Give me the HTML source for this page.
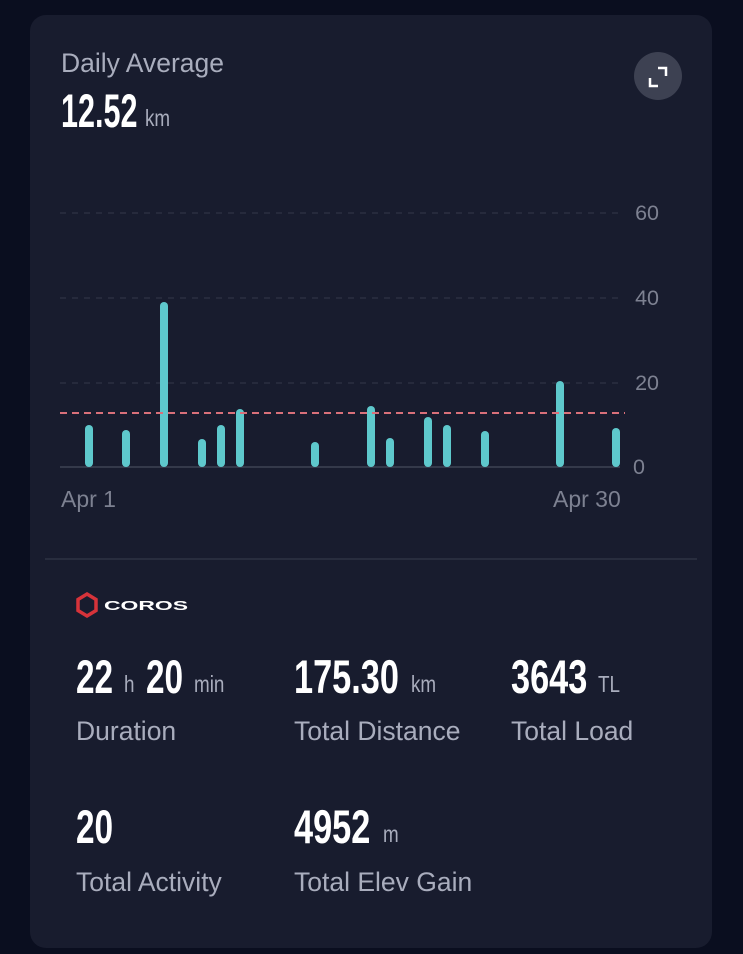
<!DOCTYPE html>
<html><head><meta charset="utf-8"><style>
body{margin:0;width:743px;height:954px;background:#0a0e1f;font-family:"Liberation Sans",sans-serif;overflow:hidden;position:relative}
.card{position:absolute;left:30px;top:15px;width:682px;height:933px;background:#181c2e;border-radius:16px}
</style></head><body>
<div class="card"></div>
<div style="position:absolute;left:634px;top:52px;width:48px;height:48px;border-radius:50%;background:#3d4152"></div>
<svg style="position:absolute;left:0;top:0" width="743" height="954" font-family="Liberation Sans">
<g fill="none" stroke="#fff" stroke-width="2.5"><path d="M650 78v8h8M658 68h8v8"/></g>
<text x="61" y="72" fill="#a9adbd" font-size="26.5">Daily Average</text>
<g fill="#fff" font-weight="bold" font-size="47">
<text transform="translate(61,127) scale(0.65,1)">12.52</text>
<text transform="translate(76,693) scale(0.71,1)">22</text>
<text transform="translate(146,693) scale(0.71,1)">20</text>
<text transform="translate(294,693) scale(0.73,1)">175.30</text>
<text transform="translate(511,693) scale(0.73,1)">3643</text>
<text transform="translate(76,843) scale(0.71,1)">20</text>
<text transform="translate(294,843) scale(0.73,1)">4952</text>
</g>
<g fill="#a9adbd" font-size="23">
<text transform="translate(145,126) scale(0.82,1)">km</text>
<text transform="translate(124,692) scale(0.82,1)">h</text>
<text transform="translate(194,692) scale(0.82,1)">min</text>
<text transform="translate(411,692) scale(0.82,1)">km</text>
<text transform="translate(598,692) scale(0.82,1)">TL</text>
<text transform="translate(383,842) scale(0.82,1)">m</text>
</g>
<g fill="#a9adbd" font-size="26.5">
<text x="76" y="740">Duration</text><text x="294" y="740">Total Distance</text><text x="511" y="740">Total Load</text>
<text x="76" y="891">Total Activity</text><text x="294" y="891">Total Elev Gain</text>
</g>
<g stroke="#333849" stroke-width="1" stroke-dasharray="6,6"><line x1="60" y1="213" x2="620" y2="213"/><line x1="60" y1="298" x2="620" y2="298"/><line x1="60" y1="383" x2="620" y2="383"/></g>
<line x1="60" y1="467" x2="620" y2="467" stroke="#3e4353" stroke-width="1.5"/>
<g fill="#5ec8cc">
<rect x="85" y="425" width="8" height="42" rx="4"/><rect x="122" y="430" width="8" height="37" rx="4"/><rect x="160" y="302" width="8" height="165" rx="4"/><rect x="198" y="439" width="8" height="28" rx="4"/><rect x="217" y="425" width="8" height="42" rx="4"/><rect x="236" y="409" width="8" height="58" rx="4"/><rect x="311" y="442" width="8" height="25" rx="4"/><rect x="367" y="406" width="8" height="61" rx="4"/><rect x="386" y="438" width="8" height="29" rx="4"/><rect x="424" y="417" width="8" height="50" rx="4"/><rect x="443" y="425" width="8" height="42" rx="4"/><rect x="481" y="431" width="8" height="36" rx="4"/><rect x="556" y="381" width="8" height="86" rx="4"/><rect x="612" y="428" width="8" height="39" rx="4"/>
</g>
<line x1="60" y1="413" x2="625" y2="413" stroke="#d9707a" stroke-width="2" stroke-dasharray="7,5"/>
<g fill="#7d8191" font-size="21.5" text-anchor="end"><text x="659" y="220">60</text><text x="659" y="305">40</text><text x="659" y="390">20</text><text x="645" y="474">0</text></g>
<g fill="#7d8191" font-size="23"><text x="61" y="507">Apr 1</text><text x="553" y="507">Apr 30</text></g>
<line x1="45" y1="559" x2="697" y2="559" stroke="#2e3344" stroke-width="1.5"/>
<path d="M87 594l9 5.5v11l-9 5.5l-9-5.5v-11z" fill="none" stroke="#d6333a" stroke-width="3.5"/>
<text x="104" y="610" fill="#fff" font-size="13" font-weight="bold" textLength="84" lengthAdjust="spacingAndGlyphs">COROS</text>
</svg>
</body></html>
